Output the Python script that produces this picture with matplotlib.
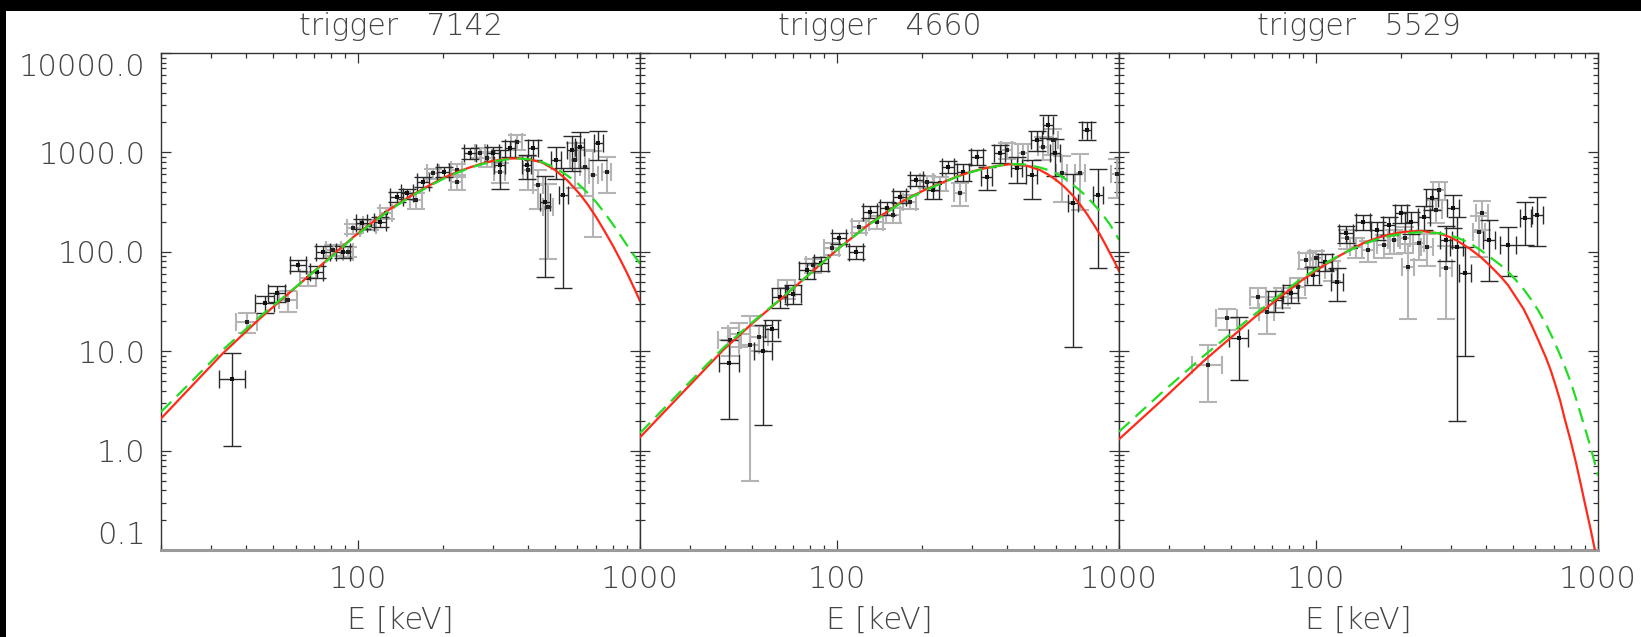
import matplotlib
matplotlib.use("Agg")
import matplotlib.pyplot as plt
from matplotlib import font_manager as fm
from matplotlib.ticker import FixedLocator, NullFormatter
from matplotlib.patches import Rectangle

# ---------------- data ----------------
titles = ["trigger   7142", "trigger   4660", "trigger   5529"]
xtick_vals = [100, 1000]
xtick_labels = ["100", "1000"]
xminor_vals = [20, 30, 40, 50, 60, 70, 80, 90, 200, 300, 400, 500, 600, 700, 800, 900]
ytick_vals = [0.1, 1, 10, 100, 1000, 10000]
ytick_labels = ["0.1", "1.0", "10.0", "100.0", "1000.0", "10000.0"]
yminor_vals = [m * d for d in [0.1, 1, 10, 100, 1000] for m in range(2, 10)]

# panel 1 (trigger 7142)
p1_black_E = [35.8, 46.7, 51.4, 61.4, 71.3, 75.3, 88.7, 103, 120, 137, 149, 170, 201, 249, 301, 318, 346, 396, 418, 460, 505, 534, 572, 612, 711]
p1_black_F = [5.3, 30.3, 38.2, 73.6, 63, 100, 100, 193, 201, 358, 387, 508, 640, 977, 977, 746, 1098, 746, 1098, 319, 838, 372, 1057, 1142, 1234]
p1_black_sF = [4.2, 6, 7, 10, 9, 14, 14, 22, 25, 40, 45, 60, 80, 120, 150, 320, 200, 200, 250, 263, 300, 329, 400, 450, 400]
p1_black_dE = [3.8, 3.5, 3.5, 4, 4, 4.5, 5, 5, 6, 7, 7, 8, 10, 12, 14, 14, 15, 16, 16, 18, 20, 20, 22, 22, 26]
p1_gray_E = [40.3, 56.6, 66.6, 81.7, 92.3, 96.2, 110, 126, 161, 185, 224, 224, 271, 286, 318, 365, 402, 436, 472, 588, 637, 682, 761]
p1_gray_F = [19.8, 32.7, 54, 104, 100, 172, 186, 244, 332, 615, 665, 508, 990, 870, 640, 1282, 665, 470, 284, 838, 718, 592, 640]
p1_gray_sF = [4.5, 8, 9, 14, 12, 20, 22, 30, 60, 70, 100, 90, 120, 150, 150, 220, 250, 200, 200, 400, 350, 450, 250]
p1_gray_dE = [3.5, 4, 4.5, 5, 4, 5, 6, 6, 8, 9, 10, 10, 12, 12, 14, 15, 16, 18, 18, 22, 24, 25, 28]
p1_red_E = [20, 25, 33, 45, 57, 75, 96, 115, 130, 150, 175, 200, 220, 245, 270, 300, 345, 375, 406, 450, 500, 550, 612, 655, 700, 750, 803, 850, 900, 950, 1000]
p1_red_F = [2.1, 4.1, 9.4, 21.5, 38.5, 76, 140, 208, 270, 350, 450, 550, 620, 695, 760, 820, 868, 870, 850, 790, 665, 530, 380, 295, 222, 160, 114, 84, 61, 44, 32]
p1_green_E = [20, 25, 33, 45, 57, 75, 96, 115, 130, 150, 175, 200, 220, 245, 270, 300, 345, 375, 406, 450, 500, 550, 600, 650, 700, 750, 800, 850, 900, 950, 1000]
p1_green_F = [2.45, 4.6, 10.2, 22.5, 39, 75, 138, 205, 264, 345, 442, 540, 610, 685, 750, 808, 858, 868, 850, 800, 700, 590, 490, 395, 315, 245, 190, 148, 116, 93, 76]

# panel 2 (trigger 4660)
p2_black_E = [41.5, 54.6, 58.6, 62.7, 70, 78, 88, 102, 117, 131, 150, 167, 191, 219, 248, 280, 313, 339, 378, 433, 490, 510, 561, 593, 688, 767, 843]
p2_black_F = [7.6, 10, 16.6, 35.3, 38, 65.6, 76.5, 137, 100, 254, 274, 358, 527, 419, 718, 640, 905, 570, 977, 692, 592, 1333, 1888, 977, 307, 1680, 372]
p2_black_sF = [5.5, 8.2, 4, 8, 8, 12, 12, 18, 15, 35, 40, 50, 70, 80, 100, 120, 150, 150, 200, 200, 250, 300, 500, 400, 296, 350, 304]
p2_black_dE = [3.5, 4, 3, 4, 4.5, 5, 5, 6, 7, 7, 8, 9, 10, 11, 12, 14, 15, 16, 17, 19, 21, 22, 24, 25, 28, 30, 35]
p2_gray_E = [41.7, 45, 49, 53, 66.2, 82.4, 95.7, 120, 138, 158, 181, 208, 232, 273, 399, 457, 539, 585, 626, 727, 980]
p2_gray_F = [13, 15, 11.5, 14, 42.8, 73.6, 108, 179, 201, 234, 319, 508, 489, 387, 1057, 977, 1142, 1333, 615, 615, 600]
p2_gray_sF = [4, 4, 11, 4, 9, 12, 15, 25, 30, 40, 50, 70, 80, 100, 200, 250, 300, 400, 300, 350, 250]
p2_gray_dE = [4, 4, 4, 4, 4.5, 5, 6, 7, 8, 9, 10, 11, 12, 13, 18, 20, 23, 25, 26, 30, 40]
p2_red_E = [20, 28, 39.5, 50, 62.6, 80, 102, 130, 167, 185, 205, 245, 270, 300, 325, 349, 380, 410, 440, 470, 524, 560, 600, 640, 688, 730, 770, 810, 855, 890, 930, 965, 1000]
p2_red_F = [1.36, 3.7, 10.3, 19, 32.7, 60, 110, 190, 310, 365, 420, 520, 580, 640, 680, 710, 740, 760, 755, 735, 665, 600, 525, 450, 365, 295, 240, 192, 150, 122, 96, 79, 64]
p2_green_E = [20, 28, 39.5, 50, 62.6, 80, 102, 130, 167, 185, 205, 245, 270, 300, 325, 349, 380, 410, 440, 470, 524, 560, 600, 640, 688, 730, 770, 810, 855, 890, 930, 965, 1000]
p2_green_F = [1.5, 4.0, 10.8, 19.5, 33, 60, 110, 188, 305, 360, 415, 515, 575, 635, 675, 705, 740, 760, 762, 752, 705, 665, 612, 550, 470, 410, 355, 305, 258, 222, 187, 158, 132]

# panel 3 (trigger 5529)
p3_black_E = [53.3, 71.6, 81.3, 97.7, 108, 119, 128, 147, 165, 182, 200, 218, 241, 258, 289, 306, 315, 337, 411, 480, 552, 610]
p3_black_F = [13.5, 32.7, 38.2, 58.3, 79.5, 50, 153, 201, 166, 186, 244, 201, 226, 345, 131, 274, 112, 61, 131, 117, 217, 234]
p3_black_sF = [8.4, 8, 8, 12, 15, 18, 30, 35, 35, 40, 50, 50, 60, 80, 50, 100, 110, 52, 80, 60, 100, 120]
p3_black_dE = [4, 4, 5, 5, 6, 6, 7, 8, 8, 9, 10, 11, 12, 12, 14, 15, 16, 16, 20, 30, 25, 28]
p3_gray_E = [41.4, 48.3, 62.3, 66.8, 75.8, 86, 92.3, 100, 114, 129, 139, 153, 174, 189, 206, 212, 231, 248, 266, 273, 289, 378, 388]
p3_gray_F = [7.3, 21.4, 35.3, 25, 35.3, 44.6, 82.6, 86, 65.6, 137, 112, 104, 117, 131, 137, 71, 122, 112, 263, 419, 68, 159, 244]
p3_gray_sF = [4.2, 5, 8, 10, 8, 10, 15, 15, 15, 30, 25, 25, 30, 35, 40, 50, 40, 40, 70, 90, 47, 70, 80]
p3_gray_dE = [5, 4, 4, 4, 4, 5, 5, 5, 6, 7, 7, 8, 9, 9, 10, 10, 11, 12, 13, 13, 14, 18, 18]
p3_red_E = [20, 28, 40, 60, 75, 88.5, 105, 120, 135, 147, 165, 180, 206, 237, 273, 300, 320, 350, 383, 415, 450, 480, 508, 545, 580, 615, 655, 680, 706, 735, 760, 800, 836, 870, 902, 940, 975]
p3_red_F = [1.3, 3.1, 8.0, 21.5, 35.5, 51, 71, 90, 108, 122, 138, 148, 159, 162, 153, 140, 127, 108, 89, 72, 57, 46, 36, 26.5, 18.5, 12.8, 8.5, 6.4, 4.6, 3.15, 2.15, 1.25, 0.75, 0.45, 0.28, 0.165, 0.1]
p3_green_E = [20, 28, 40, 60, 75, 88.5, 105, 120, 135, 147, 165, 180, 206, 237, 273, 300, 320, 350, 383, 415, 450, 480, 508, 545, 580, 615, 655, 700, 750, 800, 843, 880, 918, 960, 1000]
p3_green_F = [1.55, 3.7, 9.0, 23, 37.5, 53.5, 73, 91, 107, 119, 134, 143, 153, 158, 154, 146, 137, 123, 104, 88, 74, 63, 53, 42, 33, 25.5, 18.5, 12.5, 7.9, 4.9, 3.1, 2.05, 1.38, 0.88, 0.56]

panels = [
    (p1_black_E, p1_black_F, p1_black_sF, p1_black_dE, p1_gray_E, p1_gray_F, p1_gray_sF, p1_gray_dE,
     p1_red_E, p1_red_F, p1_green_E, p1_green_F),
    (p2_black_E, p2_black_F, p2_black_sF, p2_black_dE, p2_gray_E, p2_gray_F, p2_gray_sF, p2_gray_dE,
     p2_red_E, p2_red_F, p2_green_E, p2_green_F),
    (p3_black_E, p3_black_F, p3_black_sF, p3_black_dE, p3_gray_E, p3_gray_F, p3_gray_sF, p3_gray_dE,
     p3_red_E, p3_red_F, p3_green_E, p3_green_F),
]


# ---------------- font: prefer a thin face (the original uses a thin vector font) ----------------
def pick_light_font():
    cands = [("DejaVu Sans", 200), ("DejaVu Sans", 300), ("Open Sans", 300), ("Open Sans Light", 400),
             ("Lato", 300), ("Lato Light", 400), ("Noto Sans", 300), ("Noto Sans Light", 400),
             ("Roboto", 300), ("Roboto Light", 400)]
    for fam, w in cands:
        try:
            path = fm.findfont(fm.FontProperties(family=fam, weight=w), fallback_to_default=False)
        except Exception:
            continue
        low = path.lower()
        if "light" in low or "thin" in low:
            return fam, w
    return "DejaVu Sans", "normal"


FAM, WEIGHT = pick_light_font()
plt.rcParams["font.family"] = [FAM, "DejaVu Sans"]
plt.rcParams["font.weight"] = WEIGHT

# ---------------- figure ----------------
W, H = 1641, 637
fig = plt.figure(figsize=(W / 100, H / 100), dpi=100)
fig.patch.set_facecolor("white")

TXT = "#444444"
ax_left_px = [161, 640, 1119]
ax_w_px, ax_top_px, ax_bot_px = 479, 53, 550

for i, (bE, bF, bs, bdE, gE, gF, gs, gdE, rE, rF, grE, grF) in enumerate(panels):
    x0 = ax_left_px[i]
    ax = fig.add_axes([x0 / W, 1 - ax_bot_px / H, ax_w_px / W, (ax_bot_px - ax_top_px) / H])
    ax.set_xscale("log")
    ax.set_yscale("log")

    ax.errorbar(gE, gF, yerr=gs, xerr=gdE, fmt="none", ecolor="#b4b4b4",
                elinewidth=1.5, capsize=6.5, capthick=1.5, zorder=2)
    ax.errorbar(bE, bF, yerr=bs, xerr=bdE, fmt="none", ecolor="#2a2a2a",
                elinewidth=1.0, capsize=6.5, capthick=1.0, zorder=3)
    ax.plot(gE, gF, "s", ms=3.0, color="#222222", mew=0, zorder=4)
    ax.plot(bE, bF, "s", ms=3.0, color="#111111", mew=0, zorder=4)
    ax.plot(rE, rF, color="#ff2a1a", lw=1.6, zorder=5)
    ax.plot(grE, grF, color="#22dd22", lw=1.6, dashes=(6.5, 3.5), zorder=6)

    ax.set_xlim(20, 1000)
    ax.set_ylim(0.1, 10000)

    ax.xaxis.set_major_locator(FixedLocator(xtick_vals))
    ax.xaxis.set_minor_locator(FixedLocator(xminor_vals))
    ax.xaxis.set_minor_formatter(NullFormatter())
    ax.set_xticklabels(xtick_labels)
    ax.yaxis.set_major_locator(FixedLocator(ytick_vals))
    ax.yaxis.set_minor_locator(FixedLocator(yminor_vals))
    ax.yaxis.set_minor_formatter(NullFormatter())
    if i == 0:
        ax.set_yticklabels(ytick_labels)
        labs = ax.get_yticklabels()
        labs[0].set_va("bottom")
        labs[-1].set_va("top")
    else:
        ax.set_yticklabels([])

    ax.tick_params(which="both", direction="in", top=True, right=True,
                   colors="#333333", labelcolor=TXT, labelsize=22)
    ax.tick_params(which="major", length=7.5, width=0.9)
    ax.tick_params(which="minor", length=3.8, width=0.9)
    ax.tick_params(axis="x", pad=11)
    ax.tick_params(axis="y", pad=11)

    for s in ["left", "right", "top"]:
        ax.spines[s].set_color("#333333")
        ax.spines[s].set_linewidth(1.0)
    ax.spines["bottom"].set_color("#9a9a9a")
    ax.spines["bottom"].set_linewidth(2.2)

    cx = (x0 + ax_w_px / 2) / W
    fig.text(cx, 1 - 35 / H, titles[i], ha="center", va="baseline", fontsize=21.5, color=TXT)
    fig.text(cx, 1 - 620 / H, "E [keV]", ha="center", va="center", fontsize=22, color=TXT)

# black borders of the original scan
fig.add_artist(Rectangle((0, 1 - 11 / H), 1, 11 / H, transform=fig.transFigure,
                         facecolor="black", edgecolor="none", zorder=10))
fig.add_artist(Rectangle((0, 0), 6 / W, 1, transform=fig.transFigure,
                         facecolor="black", edgecolor="none", zorder=10))

fig.savefig("out.png", dpi=100, facecolor=fig.get_facecolor())
